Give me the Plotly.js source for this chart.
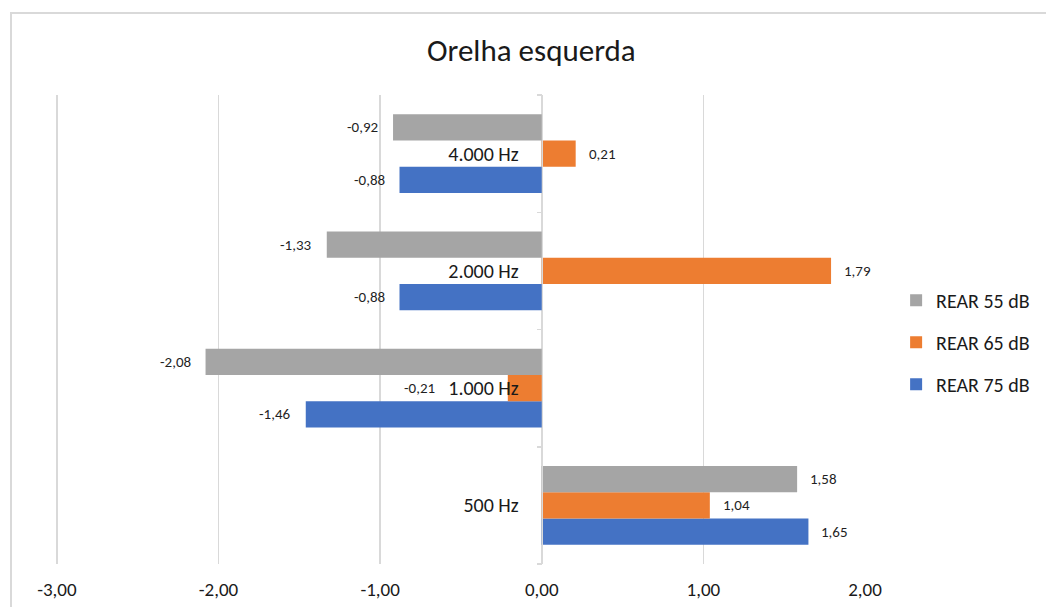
<!DOCTYPE html>
<html>
<head>
<meta charset="utf-8">
<script src="https://cdn.plot.ly/plotly-3.0.1.min.js"></script>
<style>
  html, body { margin: 0; padding: 0; background: #ffffff; }
  #frame { position: absolute; left: 10px; top: 12px; width: 1100px; height: 700px;
           border-left: 2px solid #d9d9d9; border-top: 2px solid #d9d9d9; pointer-events: none; }
  #chart { position: absolute; left: 0; top: 0; width: 1046px; height: 607px; }
</style>
</head>
<body>
<div id="frame"></div>
<div id="chart"></div>
<script>
// Frequencies (bottom to top on the category axis)
const categories = ['500 Hz', '1.000 Hz', '2.000 Hz', '4.000 Hz'];

// REAR differences per stimulus level
const rear55 = [1.58, -2.08, -1.33, -0.92];
const rear65 = [1.04, -0.21, 1.79, 0.21];
const rear75 = [1.65, -1.46, -0.88, -0.88];

const seriesNames = ['REAR 55 dB', 'REAR 65 dB', 'REAR 75 dB'];
const xTickValues = [-3, -2, -1, 0, 1, 2];

const colors = { 'REAR 55 dB': '#a5a5a5', 'REAR 65 dB': '#ed7d31', 'REAR 75 dB': '#4472c4' };
const fontFamily = 'Carlito, Calibri, "Noto Sans", "Open Sans", sans-serif';

// a hair of room left of -3 so its gridline is kept
const xRange = [xTickValues[0] - 0.03, xTickValues[xTickValues.length - 1]];

const margin = { l: 52, r: 180, t: 95, b: 43 };
const plotH = 607 - margin.t - margin.b;
const bargap = 0.33;
// height of one bar slot in pixels, used to place value labels on their bar
const slot = plotH / categories.length * (1 - bargap) / 3;

// decimal comma with a plain hyphen for negatives
const fmt = v => v.toFixed(2).replace('.', ',');

// traces listed bottom-up inside each group: 75 dB, 65 dB, 55 dB
const seriesData = [
  { name: seriesNames[2], values: rear75, shift: -slot, rank: 3 },
  { name: seriesNames[1], values: rear65, shift: 0, rank: 2 },
  { name: seriesNames[0], values: rear55, shift: slot, rank: 1 }
];

const traces = seriesData.map(s => ({
  type: 'bar',
  orientation: 'h',
  name: s.name,
  legendgroup: s.name,
  legendrank: s.rank,
  x: s.values,
  y: categories,
  marker: { color: colors[s.name] },
  hoverinfo: 'x+name'
}));

// value labels at the outer end of each bar
const annotations = [];
seriesData.forEach(s => {
  s.values.forEach((v, i) => {
    // the small negative 65 dB label sits further left, clear of the category text
    const extra = (Math.abs(v) < 0.3 && v < 0) ? 58 : 0;
    annotations.push({
      x: v, y: categories[i], xref: 'x', yref: 'y',
      text: fmt(v), showarrow: false,
      xanchor: v >= 0 ? 'left' : 'right',
      xshift: v >= 0 ? 11 : -(13 + extra),
      yshift: s.shift,
      font: { family: fontFamily, size: 15, color: '#1f1f1f' }
    });
  });
});

const layout = {
  width: 1046, height: 607,
  margin: margin,
  paper_bgcolor: 'rgba(0,0,0,0)',
  plot_bgcolor: 'rgba(0,0,0,0)',
  separators: ',.',
  barmode: 'group',
  bargap: bargap,
  bargroupgap: 0,
  title: {
    text: 'Orelha esquerda',
    x: 0.508, xanchor: 'center', y: 0.918, yanchor: 'middle',
    font: { family: fontFamily, size: 31, color: '#1a1a1a' }
  },
  xaxis: {
    range: xRange,
    tickvals: xTickValues,
    ticktext: xTickValues.map(fmt),
    showgrid: true, gridcolor: '#d9d9d9', gridwidth: 1.5,
    zeroline: false, showline: false, ticks: '',
    ticklabelstandoff: 12,
    tickfont: { family: fontFamily, size: 19, color: '#1a1a1a' },
    fixedrange: true
  },
  yaxis: {
    type: 'category',
    categoryorder: 'array', categoryarray: categories,
    anchor: 'free',
    position: (0 - xRange[0]) / (xRange[1] - xRange[0]),
    showline: true, linecolor: '#d9d9d9', linewidth: 1.5,
    ticks: 'outside', tickson: 'boundaries', ticklen: 5, tickcolor: '#d9d9d9', tickwidth: 1.5,
    showgrid: false, zeroline: false,
    ticklabelstandoff: 19,
    tickfont: { family: fontFamily, size: 20, color: '#1a1a1a' },
    fixedrange: true
  },
  showlegend: true,
  legend: {
    x: 1.037, xanchor: 'left', y: 0.473, yanchor: 'middle',
    traceorder: 'grouped', tracegroupgap: 13,
    font: { family: fontFamily, size: 20, color: '#1a1a1a' },
    bgcolor: 'rgba(0,0,0,0)'
  },
  annotations: annotations
};

Plotly.newPlot('chart', traces, layout, { displayModeBar: false, staticPlot: true });
</script>
</body>
</html>
